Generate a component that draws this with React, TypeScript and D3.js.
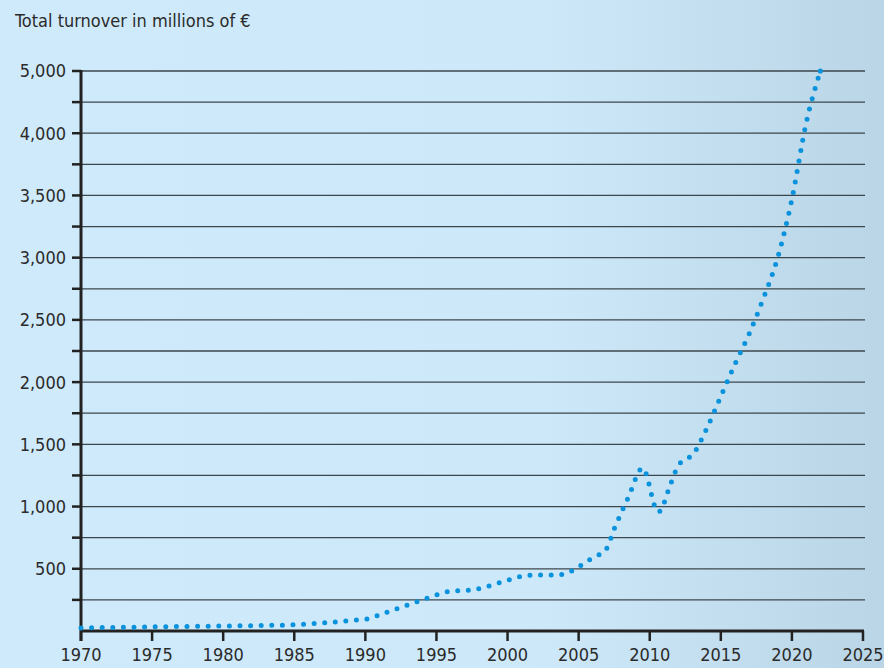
import * as d3 from "d3"

// turnover in millions of € (year can be fractional)
const years = [
  1970, 1975, 1980, 1985, 1987, 1989, 1990.3, 1991, 1992, 1993, 1994, 1995, 1996,
  1997.5, 1998.5, 1999.5, 2000.5, 2001.5, 2002.5, 2003.6, 2004.4, 2005, 2006,
  2006.9, 2007.5, 2008.5, 2009.5, 2010.6, 2011.5, 2012, 2012.5, 2013, 2014, 2015,
  2016, 2017, 2018, 2019, 2020, 2021, 2022,
]
const turnover = [
  25, 33, 40, 50, 65, 85, 100, 130, 170, 210, 250, 290, 320,
  330, 355, 390, 425, 448, 450, 452, 475, 515, 590,
  650, 820, 1075, 1310, 955, 1190, 1330, 1375, 1415, 1625, 1885,
  2145, 2390, 2675, 3000, 3470, 4080, 4500,
]

const xTicks = [1970, 1975, 1980, 1985, 1990, 1995, 2000, 2005, 2010, 2015, 2020, 2025]
const yGrid = [250, 500, 750, 1000, 1250, 1500, 1750, 2000, 2250, 2500, 2750, 3000, 3250, 3500, 3750, 4000, 4250, 4500]
const yLabelValues = [500, 1000, 1500, 2000, 2500, 3000, 3500, 4000, 4500]
// the original prints "5,000" on its top line
const yLabels = ["500", "1,000", "1,500", "2,000", "2,500", "3,000", "3,500", "4,000", "5,000"]

const title = "Total turnover in millions of €"

const W = 884
const H = 668
const font = "'DejaVu Sans Condensed', 'DejaVu Sans', sans-serif"

export default function App() {
  const x = d3.scaleLinear().domain([1970, 2025]).range([81, 863])
  const y = d3.scaleLinear().domain([0, 4500]).range([631, 71])

  const data = years.map((yr, i) => ({yr, v: turnover[i]}))
  const line = d3
    .line<{yr: number; v: number}>()
    .x((d) => x(d.yr))
    .y((d) => y(d.v))
    .curve(d3.curveMonotoneX)
  const last = data[data.length - 1]

  return (
    <svg
      width={W}
      height={H}
      style={{position: "absolute", left: 0, top: 0, display: "block"}}
    >
      <defs>
        <linearGradient id="bg" x1="0" x2="1" y1="0" y2="0">
          <stop offset="0" stopColor="#cfeafa" />
          <stop offset="0.62" stopColor="#cde9f9" />
          <stop offset="1" stopColor="#bad5e5" />
        </linearGradient>
      </defs>
      <rect width={W} height={H} fill="url(#bg)" />

      <text x={15} y={27} fontFamily={font} fontSize={18} fill="#2b2b2b">
        {title}
      </text>

      {/* grid lines */}
      {yGrid.map((v) => (
        <line
          key={v}
          x1={x(1970)}
          x2={865}
          y1={y(v)}
          y2={y(v)}
          stroke="#3c474d"
          strokeWidth={1.3}
        />
      ))}

      {/* y ticks */}
      {yGrid.map((v) => (
        <line
          key={"t" + v}
          x1={72}
          x2={x(1970)}
          y1={y(v)}
          y2={y(v)}
          stroke="#222"
          strokeWidth={2.5}
        />
      ))}
      {yLabelValues.map((v, i) => (
        <text
          key={"l" + v}
          x={66}
          y={y(v)}
          dy="0.36em"
          textAnchor="end"
          fontFamily={font}
          fontSize={18}
          fill="#2b2b2b"
        >
          {yLabels[i]}
        </text>
      ))}

      {/* x ticks */}
      {xTicks.map((t) => (
        <g key={t}>
          <line
            x1={x(t)}
            x2={x(t)}
            y1={y(0)}
            y2={y(0) + 10}
            stroke="#222"
            strokeWidth={2.5}
          />
          <text
            x={x(t)}
            y={661}
            textAnchor="middle"
            fontFamily={font}
            fontSize={18}
            fill="#2b2b2b"
          >
            {t}
          </text>
        </g>
      ))}

      {/* axes */}
      <line x1={x(1970)} x2={x(1970)} y1={y(4500) - 1} y2={y(0) + 10} stroke="#222" strokeWidth={3} />
      <line x1={x(1970) - 1} x2={x(2025) + 1} y1={y(0)} y2={y(0)} stroke="#222" strokeWidth={3} />

      {/* dotted series */}
      <path
        d={line(data) ?? ""}
        fill="none"
        stroke="#0a93dc"
        strokeWidth={5}
        strokeLinecap="round"
        strokeDasharray="0 10.6"
      />
      <circle cx={x(last.yr)} cy={y(last.v)} r={2.6} fill="#0a93dc" />
    </svg>
  )
}
